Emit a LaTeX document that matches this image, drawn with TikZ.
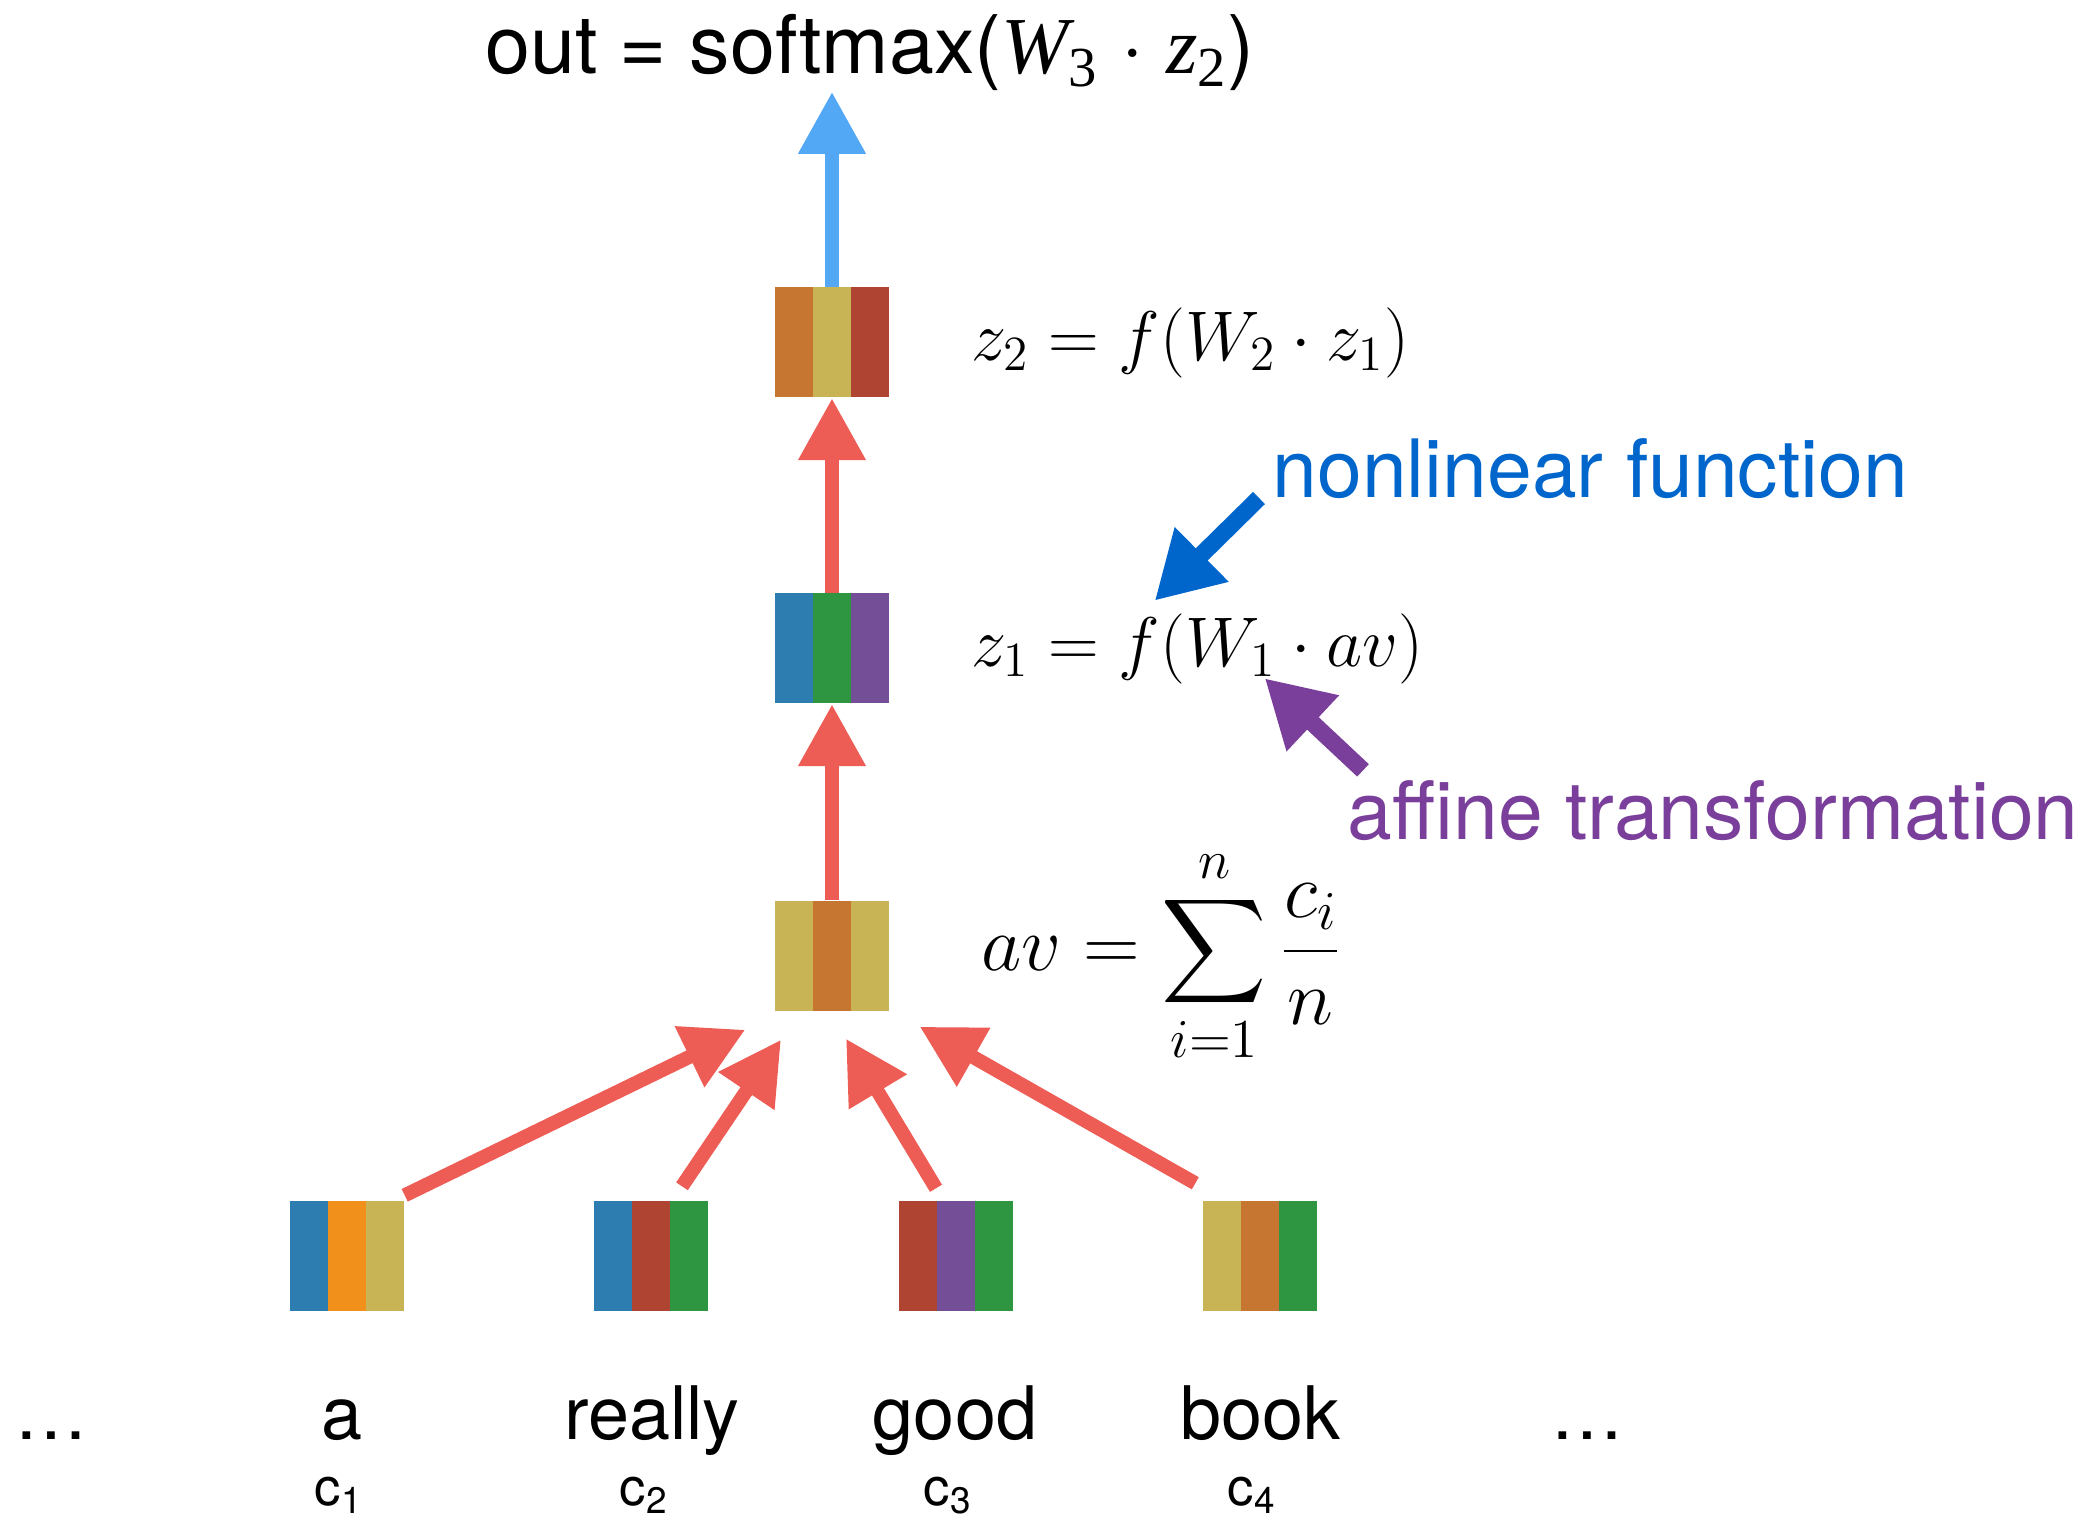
\RequirePackage{fix-cm}
\documentclass[tikz,border=0pt]{standalone}
\usepackage[no-math]{fontspec}
\setmainfont{TeX Gyre Heros}
\newfontfamily\timesfont{Liberation Serif}
\usepackage{amsmath}
\usetikzlibrary{arrows.meta}
\usetikzlibrary{positioning}

\definecolor{arrowred}{RGB}{238,93,85}
\definecolor{outblue}{RGB}{83,168,245}
\definecolor{nlblue}{RGB}{0,102,204}
\definecolor{afpurple}{RGB}{122,62,155}
\definecolor{vblue}{RGB}{46,125,176}
\definecolor{vorange}{RGB}{242,144,28}
\definecolor{volive}{RGB}{200,180,84}
\definecolor{vred}{RGB}{176,68,50}
\definecolor{vgreen}{RGB}{46,150,64}
\definecolor{vpurple}{RGB}{116,78,150}
\definecolor{vbrown}{RGB}{198,118,48}

\begin{document}
\begin{tikzpicture}[
    wordvec/.style n args={3}{minimum width=1.14cm, minimum height=1.1cm, inner sep=0pt,
      path picture={
        \fill[#1] (path picture bounding box.south west) rectangle ([xshift=0.38cm]path picture bounding box.north west);
        \fill[#2] ([xshift=0.38cm]path picture bounding box.south west) rectangle ([xshift=-0.38cm]path picture bounding box.north east);
        \fill[#3] ([xshift=-0.38cm]path picture bounding box.south east) rectangle (path picture bounding box.north east);
      }},
    uparrow/.style={arrowred, line width=0.14cm, -{Triangle[length=0.62cm,width=0.64cm]}},
    notearrow/.style={line width=0.17cm, -{Triangle[length=0.66cm,width=0.72cm]}},
    eq/.style={inner sep=0pt, font=\fontsize{20}{24}\selectfont},
    word/.style={anchor=base, inner sep=0pt, font=\fontsize{21}{25}\selectfont},
    clabel/.style={anchor=base, inner sep=0pt, font=\fontsize{15}{18}\selectfont},
    note/.style={anchor=base west, inner sep=0pt, font=\fontsize{22.9}{27}\selectfont}
]
    \useasboundingbox (0,0) rectangle (21,15.21);

    % Word vectors
    \node[wordvec={vblue}{vorange}{volive}] (c1) at (3.47,2.65) {};
    \node[wordvec={vblue}{vred}{vgreen}] (c2) at (6.51,2.65) {};
    \node[wordvec={vred}{vpurple}{vgreen}] (c3) at (9.56,2.65) {};
    \node[wordvec={volive}{vbrown}{vgreen}] (c4) at (12.60,2.65) {};

    % Hidden layers
    \node[wordvec={volive}{vbrown}{volive}] (av) at (8.32,5.65) {};
    \node[wordvec={vblue}{vgreen}{vpurple}] (z1) at (8.32,8.725) {};
    \node[wordvec={vbrown}{volive}{vred}] (z2) at (8.32,11.785) {};

    % Words
    \node[word] (dl) at (0.51,0.81) {…};
    \node[word] (wa) at (3.42,0.81) {a};
    \node[word] (wreally) at (6.52,0.81) {really};
    \node[word] (wgood) at (9.55,0.81) {good};
    \node[word] (wbook) at (12.60,0.81) {book};
    \node[word] (dr) at (15.87,0.81) {…};

    \node[clabel] (l1) at (3.39,0.15) {c\textsubscript{1}};
    \node[clabel] (l2) at (6.44,0.15) {c\textsubscript{2}};
    \node[clabel] (l3) at (9.48,0.15) {c\textsubscript{3}};
    \node[clabel] (l4) at (12.52,0.15) {c\textsubscript{4}};

    % Equations
    \node[eq, font=\fontsize{22.3}{26}\selectfont, right=0.91cm of av] (aveq) {$\displaystyle av = \sum_{i=1}^{n} \frac{c_i}{n}$};
    \node[eq, right=0.81cm of z1] (z1eq) {$z_1 = f(W_1 \cdot av)$};
    \node[eq, right=0.81cm of z2] (z2eq) {$z_2 = f(W_2 \cdot z_1)$};
    \node[anchor=base, inner sep=0pt, font=\fontsize{23}{28}\selectfont] (out) at (8.70,14.47)
        {out = softmax({\timesfont\itshape W}\textsubscript{\timesfont 3} · {\timesfont\itshape z}\textsubscript{\timesfont 2})};

    % Arrows
    \draw[uparrow] ([yshift=0.5mm]c1.north east) -- ([xshift=-2.9mm,yshift=-1.8mm]av.south west);
    \draw[uparrow] ([xshift=3.1mm,yshift=1.4mm]c2.north) -- ([xshift=-5.1mm,yshift=-2.8mm]av.south);
    \draw[uparrow] ([xshift=-2mm,yshift=1.2mm]c3.north) -- ([xshift=1.4mm,yshift=-2.7mm]av.south);
    \draw[uparrow] ([xshift=-0.7mm,yshift=1.7mm]c4.north west) -- ([xshift=3mm,yshift=-1.5mm]av.south east);
    \draw[uparrow] (av.north) -- (z1.south);
    \draw[uparrow] (z1.north) -- (z2.south);
    \draw[uparrow, outblue] (z2.north) -- (z2.north |- out.south);

    % Annotations
    \node[note, nlblue] (nonlin) at (12.72,10.23) {nonlinear function};
    \node[note, afpurple] (affine) at (13.47,6.81) {affine transformation};
    \draw[notearrow, nlblue] ([xshift=-1.3mm]nonlin.base west) -- ([xshift=18.4mm,yshift=1.2mm]z1eq.north west);
    \draw[notearrow, afpurple] ([xshift=1.6mm,yshift=1mm]affine.north west) -- ([xshift=29.4mm,yshift=0.6mm]z1eq.south west);
\end{tikzpicture}
\end{document}
